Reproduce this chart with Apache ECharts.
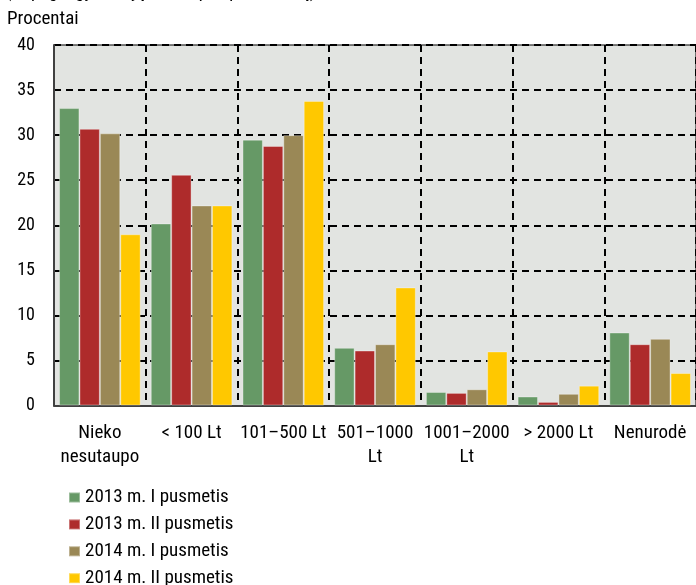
<!DOCTYPE html>
<html>
<head>
<meta charset="utf-8">
<script src="https://cdn.jsdelivr.net/npm/echarts@6/dist/echarts.min.js"></script>
<style>
html,body{margin:0;padding:0;background:#fff;}
#c{width:696px;height:585px;}
</style>
</head>
<body>
<div id="c"></div>
<script>
const categories = ["Nieko\nnesutaupo", "< 100 Lt", "101–500 Lt", "501–1000\nLt", "1001–2000\nLt", "> 2000 Lt", "Nenurodė"];
const seriesNames = ["2013 m. I pusmetis", "2013 m. II pusmetis", "2014 m. I pusmetis", "2014 m. II pusmetis"];
const s2013a = [33.0, 20.2, 29.5, 6.4, 1.5, 1.0, 8.1];
const s2013b = [30.7, 25.6, 28.8, 6.1, 1.4, 0.4, 6.8];
const s2014a = [30.2, 22.2, 30.0, 6.8, 1.8, 1.3, 7.4];
const s2014b = [19.0, 22.2, 33.8, 13.1, 6.0, 2.2, 3.6];
const yTicks = [0, 5, 10, 15, 20, 25, 30, 35, 40];
const colors = ["#669966", "#AE2B2B", "#9A8856", "#FFC800"];

const FONT = "'Roboto Condensed', 'Liberation Sans', Arial, sans-serif";
const chart = echarts.init(document.getElementById('c'), null, {renderer: 'canvas'});
const allData = [s2013a, s2013b, s2014a, s2014b];
chart.setOption({
  animation: false,
  backgroundColor: '#ffffff',
  textStyle: {fontFamily: FONT},
  graphic: [
    {type: 'text', x: 7, y: -8, style: {text: '(%, pagal gyventojų santaupas per mėnesį)', font: 'italic 19px ' + FONT, fill: '#000', verticalAlign: 'middle'}},
    {type: 'text', x: 7, y: 19, style: {text: 'Procentai', font: '19px ' + FONT, fill: '#000', verticalAlign: 'middle'}}
  ],
  grid: {left: 54, top: 45, width: 645, bottom: 179.5, show: true, backgroundColor: '#E2E4E1', borderWidth: 1, borderColor: '#000'},
  legend: {
    orient: 'vertical', left: 68, top: 488, height: 100, padding: 0,
    itemWidth: 11, itemHeight: 10, itemGap: 7.9,
    icon: 'rect',
    textStyle: {fontSize: 19, fontFamily: FONT, color: '#000', lineHeight: 18},
    data: seriesNames
  },
  xAxis: {
    type: 'category', data: categories,
    axisLine: {show: true, lineStyle: {color: '#404040', width: 2}},
    axisTick: {show: false},
    axisLabel: {interval: 0, fontSize: 19, color: '#000', fontFamily: FONT, lineHeight: 24, margin: 16},
    splitLine: {show: true, interval: 0, lineStyle: {color: '#000', width: 2, type: [7, 5]}}
  },
  yAxis: {
    type: 'value', min: 0, max: 40, interval: 5,
    axisLine: {show: true, lineStyle: {color: '#404040', width: 2}},
    axisTick: {show: false},
    axisLabel: {fontSize: 18, color: '#000', fontFamily: FONT, margin: 19,
      formatter: function (v) { return yTicks.indexOf(v) >= 0 ? String(v) : ''; }},
    splitLine: {show: true, lineStyle: {color: '#000', width: 2, type: [7, 5]}}
  },
  series: seriesNames.map((n, i) => ({
    name: n, type: 'bar', data: allData[i],
    barGap: '0%', barCategoryGap: '11%',
    itemStyle: {color: colors[i], borderColor: 'rgba(255,255,255,0.35)', borderWidth: 1}
  }))
});
</script>
</body>
</html>
